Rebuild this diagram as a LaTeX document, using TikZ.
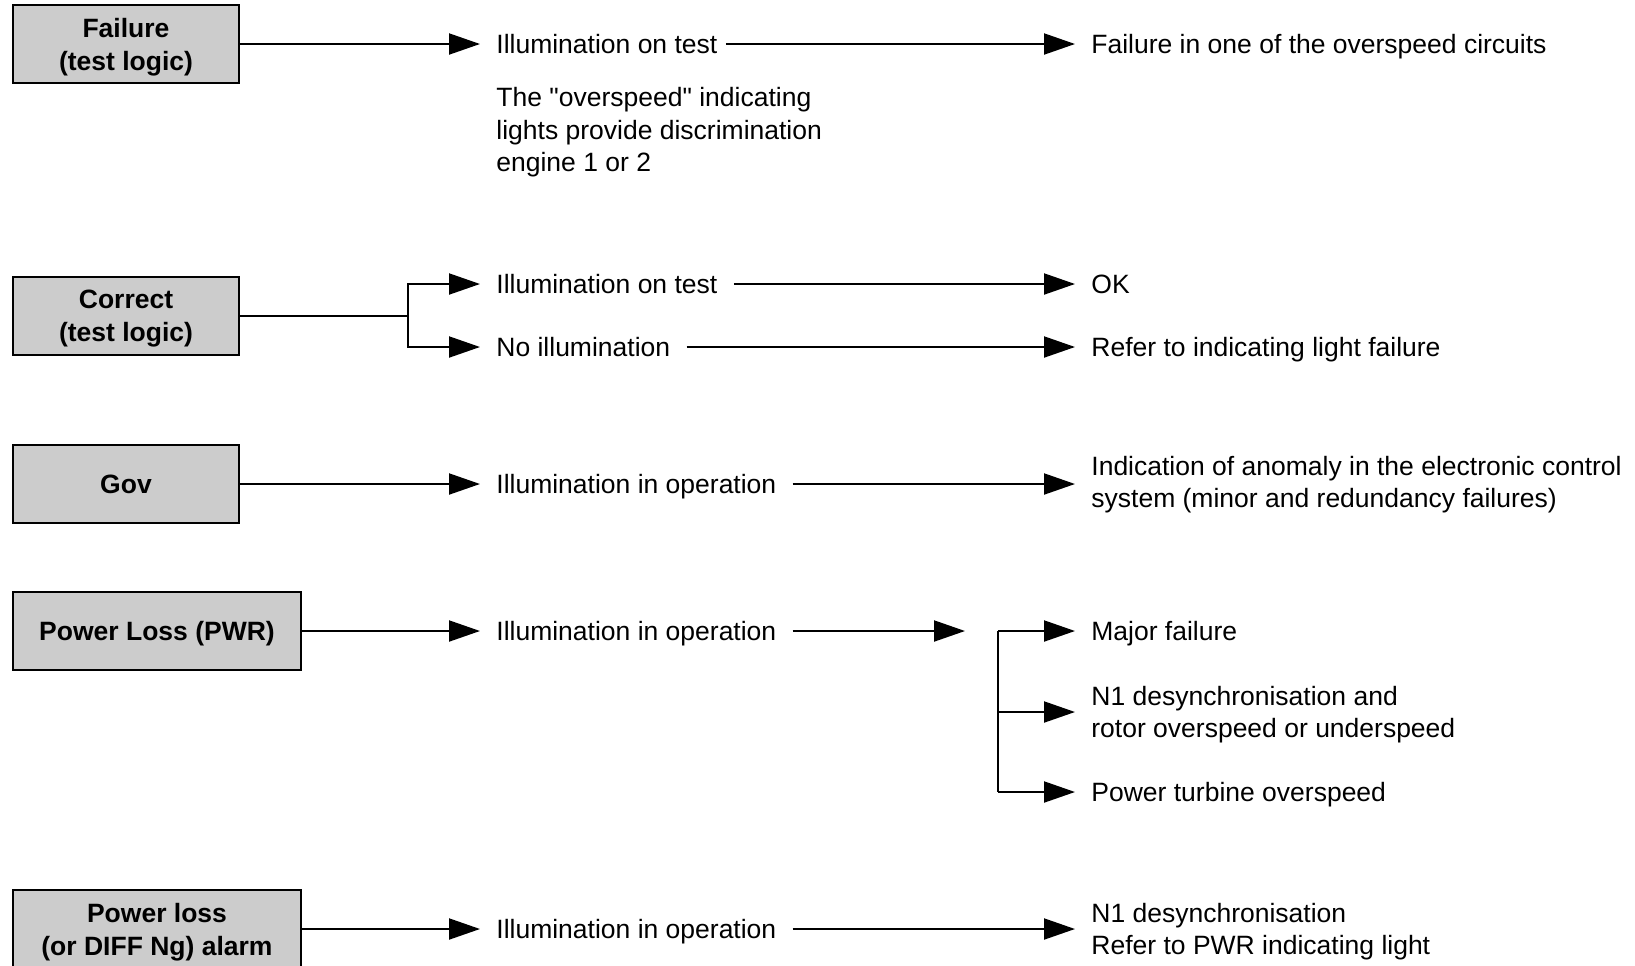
\documentclass[tikz,border=0pt]{standalone}
\usepackage{fontspec}
\setmainfont{Liberation Sans}
\newfontfamily\rawfont{Liberation Sans} % no TeX mapping, keeps straight quotes
\usetikzlibrary{arrows.meta,positioning,calc}

\begin{document}
\begin{tikzpicture}[x=0.5pt,y=-0.5pt] % one unit = one pixel, y grows downwards
\tikzset{every node/.style={font=\fontsize{13.25pt}{16.3pt}\selectfont, text depth=0pt}} % same size everywhere
\tikzset{lamp/.style={draw, rectangle, line width=1.2pt, fill=gray!40, align=center, inner sep=0pt, minimum width=113pt, minimum height=39pt, font=\fontsize{13.25pt}{16.5pt}\selectfont\bfseries}} % warning light boxes
\tikzset{txt/.style={anchor=west, align=left, inner xsep=8pt, inner ysep=0pt}} % plain text, left aligned
\tikzset{link/.style={line width=1pt, -{Triangle[length=15.5pt,width=10.5pt]}}} % arrows with long solid heads
\clip (0,0) rectangle (1635,965);

% failure (test logic)
\node[lamp] (fail) at (126,44) {Failure\\(test logic)};
\node[txt] (fail test) at (480,44) {Illumination on test};
\node[txt, anchor=north west] (fail note) at (480,87) {The {\rawfont"}overspeed{\rawfont"} indicating\\lights provide discrimination\\engine 1 or 2};
\node[txt] (fail res) at (1075,44) {Failure in one of the overspeed circuits};
\draw[link] (fail) -- (fail test);
\draw[link, shorten <=-4pt] (fail test) -- (fail res);

% correct (test logic)
\node[lamp] (corr) at (126,316) {Correct\\(test logic)};
\node[txt] (corr test) at (480,284) {Illumination on test};
\node[txt] (corr none) at (480,347) {No illumination};
\node[txt] (corr ok) at (1075,284) {OK};
\node[txt] (corr refer) at (1075,347) {Refer to indicating light failure};
\coordinate (corr fork) at (408,316);
\draw[line width=1pt] (corr) -- (corr fork);
\draw[link] (corr fork) |- (corr test);
\draw[link] (corr fork) |- (corr none);
\draw[link] (corr test) -- (corr ok);
\draw[link] (corr none) -- (corr refer);

% gov
\node[lamp] (gov) at (126,484) {Gov};
\node[txt] (gov op) at (480,484) {Illumination in operation};
\node[txt] (gov res) at (1075,482) {Indication of anomaly in the electronic control\\system (minor and redundancy failures)};
\draw[link] (gov) -- (gov op);
\draw[link] (gov op) -- (gov res.west |- gov op);

% power loss (PWR)
\node[lamp, minimum width=144pt] (pwr) at (157,631) {Power Loss (PWR)};
\node[txt] (pwr op) at (480,631) {Illumination in operation};
\coordinate (pwr end) at (965,631);
\node[txt] (pwr major) at (1075,631) {Major failure};
\node[txt] (pwr desync) at (1075,712) {N1 desynchronisation and\\rotor overspeed or underspeed};
\node[txt] (pwr turb) at (1075,792) {Power turbine overspeed};
\coordinate (pwr top) at (998,631);
\coordinate (pwr bot) at (998,792);
\draw[link] (pwr) -- (pwr op);
\draw[link] (pwr op) -- (pwr end);
\draw[line width=1pt] (pwr top) -- (pwr bot);
\draw[link] (pwr top) -- (pwr major);
\draw[link] (pwr top |- pwr desync) -- (pwr desync);
\draw[link] (pwr bot) -- (pwr turb);

% power loss (or DIFF Ng) alarm
\node[lamp, minimum width=144pt] (diff) at (157,929) {Power loss\\(or DIFF Ng) alarm};
\node[txt] (diff op) at (480,929) {Illumination in operation};
\node[txt] (diff res) at (1075,929) {N1 desynchronisation\\Refer to PWR indicating light};
\draw[link] (diff) -- (diff op);
\draw[link] (diff op) -- (diff res);
\end{tikzpicture}
\end{document}
